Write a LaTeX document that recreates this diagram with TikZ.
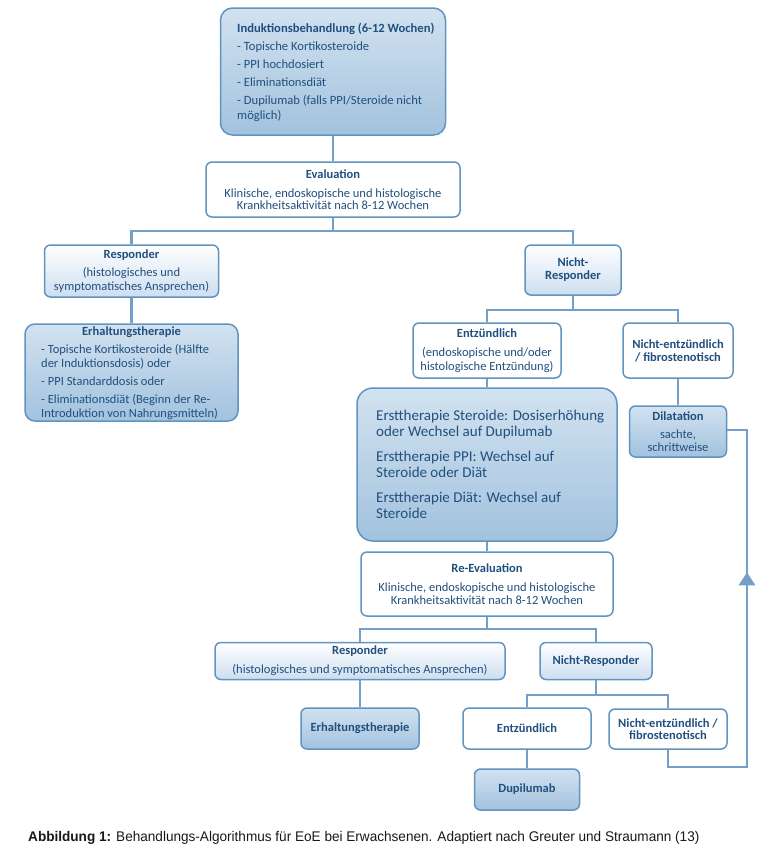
\documentclass[tikz,border=0pt]{standalone}
\usepackage{fontspec}
\setmainfont{Carlito}
\newfontfamily\capfont[FakeStretch=0.97]{Liberation Sans}
\usetikzlibrary{arrows.meta,decorations.markings}
\definecolor{linec}{RGB}{116,160,200}
\definecolor{bordc}{RGB}{98,148,192}
\definecolor{txtc}{RGB}{33,80,126}
\definecolor{ftop}{RGB}{210,226,240}
\definecolor{fbot}{RGB}{162,194,222}
\definecolor{gbot}{RGB}{205,222,240}
\tikzset{
  conn/.style={draw=linec, line width=2.8pt},
  bx/.style={draw=bordc, line width=1.5pt, rounded corners=6pt, inner sep=0pt, text=txtc, align=center},
  fbx/.style={bx, top color=ftop, bottom color=fbot},
  wbx/.style={bx, fill=white},
  gbx/.style={bx, top color=white, middle color=white, bottom color=gbot},
  tx/.style={inner sep=0pt, text=txtc, align=left, anchor=north west},
}
\begin{document}
\begin{tikzpicture}[x=1pt,y=-1pt]
\fill[white] (0,0) rectangle (764,852);
\useasboundingbox (0,0) rectangle (764,852);

% top
\node[fbx, rounded corners=12pt, minimum width=225, minimum height=127] (ind) at (333,71.5) {};
\node[tx, font=\fontsize{12.6}{15}\selectfont] (indt) at (237,22) {\rule{0pt}{10pt}\textbf{Induktionsbehandlung (6-12 Wochen)}\\[3pt]
- Topische Kortikosteroide\\[3pt]
- PPI hochdosiert\\[3pt]
- Eliminationsdiät\\[3pt]
- Dupilumab (falls PPI/Steroide nicht\\
möglich)};

\node[wbx, minimum width=254, minimum height=55, font=\fontsize{12.5}{12.5}\selectfont] (eval) at (333,189.5)
  {\textbf{Evaluation}\\[6.5pt] Klinische, endoskopische und histologische\\ Krankheitsaktivität nach 8-12 Wochen};

% level 1
\node[gbx, minimum width=174, minimum height=52, font=\fontsize{12.5}{14}\selectfont] (resp) at (131.5,271)
  {\textbf{Responder}\\[4pt] (histologisches und\\ symptomatisches Ansprechen)};
\node[fbx, rounded corners=10pt, minimum width=213, minimum height=97] (erh) at (131.5,372.5) {};
\node[inner sep=0pt, text=txtc, font=\bfseries\fontsize{12.5}{14}\selectfont] (erht) at (131.5,332) {Erhaltungstherapie};
\node[tx, font=\fontsize{12.5}{14}\selectfont] (erhi) at (41,343) {\rule{0pt}{10pt}- Topische Kortikosteroide (Hälfte\\
der Induktionsdosis) oder\\[4pt]
- PPI Standarddosis oder\\[4pt]
- Eliminationsdiät (Beginn der Re-\\
Introduktion von Nahrungsmitteln)};

\node[gbx, minimum width=96, minimum height=50, font=\bfseries\fontsize{12.5}{13}\selectfont] (nr) at (573,270) {Nicht-\\Responder};

% level 2
\node[wbx, minimum width=148, minimum height=55, font=\fontsize{12.5}{13.5}\selectfont] (entz) at (487,350.5)
  {\textbf{Entzündlich}\\[5.5pt] (endoskopische und/oder\\ histologische Entzündung)};
\node[wbx, minimum width=110, minimum height=55, font=\bfseries\fontsize{12.5}{13}\selectfont] (nent) at (678,350.5)
  {Nicht-entzündlich\\ / fibrostenotisch};

\node[fbx, rounded corners=16pt, minimum width=260, minimum height=153] (big) at (487,464.5) {};
\node[tx, font=\fontsize{15}{16}\selectfont] (bigt) at (376,408) {\rule{0pt}{12pt}Ersttherapie Steroide: Dosiserhöhung\\
oder Wechsel auf Dupilumab\\[9pt]
Ersttherapie PPI: Wechsel auf\\
Steroide oder Diät\\[9pt]
Ersttherapie Diät: Wechsel auf\\
Steroide};

\node[fbx, minimum width=97, minimum height=51, font=\fontsize{12.5}{13}\selectfont] (dil) at (678,431.5)
  {\textbf{Dilatation}\\[5pt] sachte,\\ schrittweise};

\node[wbx, minimum width=252, minimum height=64, font=\fontsize{12.5}{12.5}\selectfont] (reev) at (487,584)
  {\textbf{Re-Evaluation}\\[6.5pt] Klinische, endoskopische und histologische\\ Krankheitsaktivität nach 8-12 Wochen};

% level 3
\node[gbx, minimum width=290, minimum height=37, font=\fontsize{12.5}{13}\selectfont] (resp2) at (360,661)
  {\textbf{Responder}\\[6pt] (histologisches und symptomatisches Ansprechen)};
\node[gbx, minimum width=112, minimum height=37, font=\bfseries\fontsize{12.5}{13}\selectfont] (nr2) at (596,661) {Nicht-Responder};
\node[fbx, minimum width=118, minimum height=41, font=\bfseries\fontsize{12.5}{13}\selectfont] (erh2) at (360,728.5) {Erhaltungstherapie};
\node[wbx, minimum width=128, minimum height=41, font=\bfseries\fontsize{12.5}{13}\selectfont] (entz2) at (527,728.5) {Entzündlich};
\node[wbx, minimum width=118, minimum height=40, font=\bfseries\fontsize{12.5}{12}\selectfont] (ne2) at (668,729) {Nicht-entzündlich /\\ fibrostenotisch};
\node[fbx, minimum width=105, minimum height=41, font=\bfseries\fontsize{12.5}{13}\selectfont] (dupi) at (527,789.5) {Dupilumab};

% branch points
\coordinate (b1) at (333,231);
\coordinate (b2) at (573,310);
\coordinate (b3) at (487,629);
\coordinate (b4) at (596,695);
\coordinate (fb) at (747,767);

% connectors
\draw[conn] (ind.south) -- (eval.north);
\draw[conn] (eval.south) -- (b1);
\draw[conn] (resp.north) |- (b1) -| (nr.north);
\draw[conn] (resp.south) -- (erh.north);
\draw[conn] (nr.south) -- (b2);
\draw[conn] (entz.north) |- (b2) -| (nent.north);
\draw[conn] (entz.south) -- (big.north);
\draw[conn] (nent.south) -- (dil.north);
\draw[conn] (big.south) -- (reev.north);
\draw[conn] (reev.south) -- (b3);
\draw[conn] (resp2.north) |- (b3) -| (nr2.north);
\draw[conn] (resp2.south) -- (erh2.north);
\draw[conn] (nr2.south) -- (b4);
\draw[conn] (entz2.north) |- (b4) -| (ne2.north);
\draw[conn] (entz2.south) -- (dupi.north);
\draw[conn, postaction={decorate}, decoration={markings, mark=at position 291pt with {\arrow{Triangle[width=16pt,length=13pt]}}}]
  (ne2.south) |- (fb) |- ([yshift=1.5pt]dil.east);

% caption
\node[anchor=base west, inner sep=0pt, font=\capfont\fontsize{14}{15}\selectfont, text={rgb,255:red,25;green,25;blue,25}] (cap) at (28,841)
  {\textbf{Abbildung 1:} Behandlungs-Algorithmus für EoE bei Erwachsenen. Adaptiert nach Greuter und Straumann (13)};
\end{tikzpicture}
\end{document}
